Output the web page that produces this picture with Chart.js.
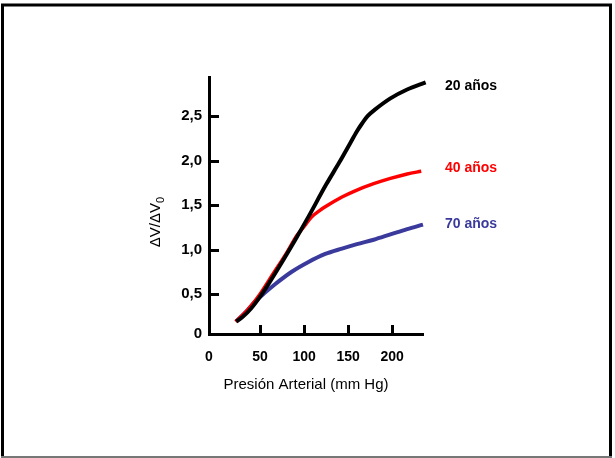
<!DOCTYPE html>
<html><head><meta charset="utf-8">
<script src="https://cdn.jsdelivr.net/npm/chart.js@4/dist/chart.umd.min.js"></script>
<style>html,body{margin:0;padding:0;background:#fff;}canvas{display:block}</style>
</head><body>
<canvas id="c" width="615" height="458"></canvas>
<script>
const xTitle = 'Presión Arterial (mm Hg)';
const yTitleMain = 'ΔV/ΔV';
const yTitleSub = '0';
const xTickValues = [0, 50, 100, 150, 200];
const xTickLabels = ['0', '50', '100', '150', '200'];
const yTickValues = [0, 0.5, 1, 1.5, 2, 2.5];
const yTickLabels = ['0', '0,5', '1,0', '1,5', '2,0', '2,5'];
const seriesNames = ['20 años', '40 años', '70 años'];
const seriesColors = ['#000000', '#ff0000', '#3a3a9c'];

const pressure20 = [23, 30, 40, 50, 60, 75, 90, 105, 125, 140, 152, 160, 166, 172, 180, 198, 217, 238];
const volume20   = [0.19, 0.24, 0.34, 0.47, 0.62, 0.86, 1.11, 1.37, 1.73, 1.98, 2.19, 2.33, 2.42, 2.50, 2.57, 2.70, 2.80, 2.88];
const pressure40 = [22, 30, 40, 50, 65, 80, 92, 100, 109, 118, 124, 143, 158, 179, 198, 217, 233];
const volume40   = [0.19, 0.26, 0.37, 0.50, 0.73, 0.96, 1.16, 1.26, 1.37, 1.44, 1.48, 1.59, 1.66, 1.74, 1.80, 1.85, 1.88];
const pressure70 = [23, 35, 44, 55, 67, 86, 105, 124, 143, 160, 179, 198, 217, 235];
const volume70   = [0.19, 0.31, 0.41, 0.51, 0.61, 0.75, 0.86, 0.95, 1.01, 1.06, 1.11, 1.17, 1.23, 1.28];

const X_MIN = -8, X_MAX = 235, Y_MIN = 0.05, Y_MAX = 2.94;

function pts(xs, ys) { return xs.map((x, i) => ({ x: x, y: ys[i] })); }

const pressures = [pressure20, pressure40, pressure70];
const volumes = [volume20, volume40, volume70];

const datasets = seriesNames.map((name, i) => ({
  label: name,
  data: pts(pressures[i], volumes[i]),
  borderColor: seriesColors[i],
  borderWidth: i === 1 ? 3.5 : 4,
  pointRadius: 0,
  fill: false,
  cubicInterpolationMode: 'monotone',
  borderCapStyle: 'butt',
  clip: false
}));

const FONT = 'Arial, "Liberation Sans", Helvetica, sans-serif';
const labelNudge = [4, -3, 0];

const framePlugin = {
  id: 'frame',
  beforeDraw(chart) {
    const ctx = chart.ctx;
    ctx.save();
    ctx.fillStyle = '#fff';
    ctx.fillRect(0, 0, chart.width, chart.height);
    ctx.strokeStyle = '#000';
    ctx.lineWidth = 3;
    ctx.beginPath();
    ctx.moveTo(2.5, 457);
    ctx.lineTo(2.5, 5);
    ctx.lineTo(610.5, 5);
    ctx.lineTo(610.5, 457);
    ctx.stroke();
    ctx.strokeStyle = '#777';
    ctx.lineWidth = 2;
    ctx.beginPath();
    ctx.moveTo(1, 457);
    ctx.lineTo(612, 457);
    ctx.stroke();
    ctx.restore();
  },
  afterDraw(chart) {
    const ctx = chart.ctx;
    const xs = chart.scales.x, ys = chart.scales.y;
    const ca = chart.chartArea;
    ctx.save();
    ctx.strokeStyle = '#000';
    ctx.lineWidth = 3;
    ctx.beginPath();
    xTickValues.forEach(v => {
      if (v === 0) return;
      const px = Math.round(xs.getPixelForValue(v)) + 0.5;
      ctx.moveTo(px, ca.bottom);
      ctx.lineTo(px, ca.bottom - 9);
    });
    yTickValues.forEach(v => {
      if (v === 0) return;
      const py = Math.round(ys.getPixelForValue(v)) + 0.5;
      ctx.moveTo(ca.left, py);
      ctx.lineTo(ca.left + 10, py);
    });
    ctx.stroke();
    // axis titles
    ctx.fillStyle = '#000';
    ctx.font = '15px ' + FONT;
    ctx.textAlign = 'center';
    ctx.textBaseline = 'middle';
    ctx.fillText(xTitle, (ca.left + ca.right) / 2 - 10, 385);
    ctx.save();
    ctx.translate(156, 222);
    ctx.rotate(-Math.PI / 2);
    ctx.font = '15px ' + FONT;
    const wMain = ctx.measureText(yTitleMain).width;
    ctx.font = '11px ' + FONT;
    const wSub = ctx.measureText(yTitleSub).width;
    const startX = -(wMain + wSub) / 2;
    ctx.textAlign = 'left';
    ctx.font = '15px ' + FONT;
    ctx.fillText(yTitleMain, startX, 0);
    ctx.font = '11px ' + FONT;
    ctx.fillText(yTitleSub, startX + wMain, 5);
    ctx.restore();
    // series labels at line ends
    ctx.font = 'bold 14px ' + FONT;
    ctx.textAlign = 'left';
    chart.data.datasets.forEach((ds, i) => {
      const last = ds.data[ds.data.length - 1];
      const py = ys.getPixelForValue(last.y) + labelNudge[i];
      ctx.fillStyle = seriesColors[i];
      ctx.fillText(seriesNames[i], ca.right + 22, py);
    });
    ctx.restore();
  }
};

new Chart(document.getElementById('c'), {
  type: 'line',
  data: { datasets: datasets },
  options: {
    responsive: false,
    animation: false,
    events: [],
    layout: { padding: { left: 140, right: 192, top: 77, bottom: 64 } },
    plugins: { legend: { display: false }, tooltip: { enabled: false } },
    scales: {
      x: {
        type: 'linear',
        min: X_MIN, max: X_MAX,
        afterFit(scale) { scale.height = 60; },
        afterBuildTicks(scale) {
          scale.ticks = xTickValues.map(v => ({ value: v === 0 ? X_MIN : v }));
        },
        grid: { drawOnChartArea: false, drawTicks: false },
        border: { color: '#000', width: 3 },
        ticks: {
          autoSkip: false, maxRotation: 0, padding: 15, color: '#000',
          font: { family: FONT, size: 14, weight: 'bold' },
          callback: (val, i) => xTickLabels[i]
        }
      },
      y: {
        type: 'linear',
        min: Y_MIN, max: Y_MAX,
        afterFit(scale) { scale.width = 69; },
        afterBuildTicks(scale) {
          scale.ticks = yTickValues.map(v => ({ value: v === 0 ? Y_MIN : v }));
        },
        grid: { drawOnChartArea: false, drawTicks: false },
        border: { color: '#000', width: 3 },
        ticks: {
          autoSkip: false, padding: 7, color: '#000',
          font: { family: FONT, size: 15, weight: 'bold' },
          callback: (val, i) => yTickLabels[i]
        }
      }
    }
  },
  plugins: [framePlugin]
});
</script>
</body></html>
